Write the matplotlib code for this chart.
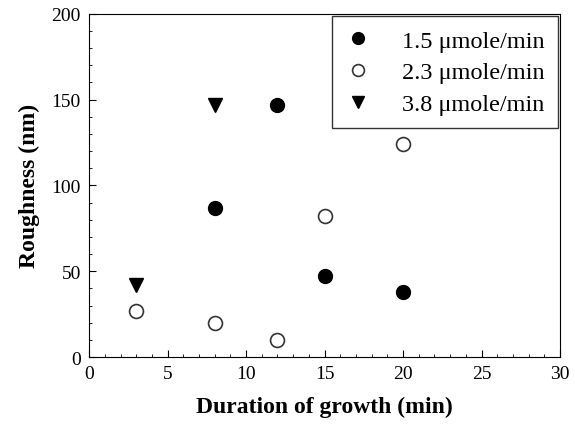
import matplotlib
matplotlib.use("Agg")
from matplotlib import pyplot as plt
from matplotlib.ticker import MultipleLocator

# data
x_15 = [8, 12, 15, 20]
y_15 = [87, 147, 47, 38]
x_23 = [3, 8, 12, 15, 20]
y_23 = [27, 20, 10, 82, 124]
x_38 = [3, 8]
y_38 = [42, 147]

plt.rcParams["font.family"] = ["Liberation Serif", "DejaVu Serif"]

fig = plt.figure(figsize=(5.75, 4.35), dpi=100)
ax = fig.add_axes([0.155, 0.177, 0.819, 0.789])

ax.plot(x_15, y_15, "o", color="black", markersize=10, label="1.5 \u03bcmole/min")
ax.plot(x_23, y_23, "o", markerfacecolor="white", markeredgecolor="#333333",
        markeredgewidth=1.2, markersize=10, label="2.3 \u03bcmole/min")
ax.plot(x_38, y_38, "v", color="black", markersize=10, label="3.8 \u03bcmole/min")

ax.set_xlim(0, 30)
ax.set_ylim(0, 200)
ax.xaxis.set_major_locator(MultipleLocator(5))
ax.xaxis.set_minor_locator(MultipleLocator(1))
ax.yaxis.set_major_locator(MultipleLocator(50))
ax.yaxis.set_minor_locator(MultipleLocator(10))
ax.tick_params(which="both", direction="in", labelsize=14, pad=6)
ax.tick_params(which="major", length=5)
ax.tick_params(which="minor", length=2.5)

ax.set_xlabel("Duration of growth (min)", fontsize=17, fontweight="bold", labelpad=10)
ax.set_ylabel("Roughness (nm)", fontsize=17, fontweight="bold", labelpad=8)

leg = ax.legend(loc="upper right", fontsize=17.5, frameon=True, fancybox=False,
                edgecolor="black", handletextpad=1.3, borderaxespad=0.1,
                labelspacing=0.4, handlelength=1.0, borderpad=0.55,
                markerscale=0.85)
leg.get_frame().set_linewidth(1.0)

fig.savefig("out.png", dpi=100)
